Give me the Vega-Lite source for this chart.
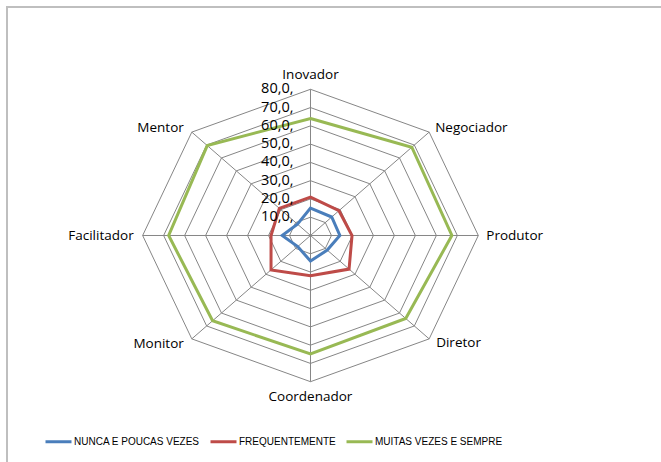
{
  "$schema": "https://vega.github.io/schema/vega-lite/v6.json",
  "width": 700,
  "height": 500,
  "autosize": {"type": "none"},
  "padding": {"left": 7, "top": 7, "right": 0, "bottom": 0},
  "background": "white",
  "config": {
    "view": {"stroke": "#BFBFBF", "strokeWidth": 2},
    "font": "Open Sans",
    "text": {"font": "Open Sans", "fontSize": 13.5, "fill": "#000000"}
  },
  "datasets": {
    "series": [
      {"axis": "Inovador", "idx": 0, "serie": "NUNCA E POUCAS VEZES", "value": 15},
      {"axis": "Negociador", "idx": 1, "serie": "NUNCA E POUCAS VEZES", "value": 14.3},
      {"axis": "Produtor", "idx": 2, "serie": "NUNCA E POUCAS VEZES", "value": 14},
      {"axis": "Diretor", "idx": 3, "serie": "NUNCA E POUCAS VEZES", "value": 11.3},
      {"axis": "Coordenador", "idx": 4, "serie": "NUNCA E POUCAS VEZES", "value": 14},
      {"axis": "Monitor", "idx": 5, "serie": "NUNCA E POUCAS VEZES", "value": 8.6},
      {"axis": "Facilitador", "idx": 6, "serie": "NUNCA E POUCAS VEZES", "value": 13.5},
      {"axis": "Mentor", "idx": 7, "serie": "NUNCA E POUCAS VEZES", "value": 8.8},
      {"axis": "Inovador", "idx": 0, "serie": "FREQUENTEMENTE", "value": 21},
      {"axis": "Negociador", "idx": 1, "serie": "FREQUENTEMENTE", "value": 19.2},
      {"axis": "Produtor", "idx": 2, "serie": "FREQUENTEMENTE", "value": 19.8},
      {"axis": "Diretor", "idx": 3, "serie": "FREQUENTEMENTE", "value": 26},
      {"axis": "Coordenador", "idx": 4, "serie": "FREQUENTEMENTE", "value": 22},
      {"axis": "Monitor", "idx": 5, "serie": "FREQUENTEMENTE", "value": 26.6},
      {"axis": "Facilitador", "idx": 6, "serie": "FREQUENTEMENTE", "value": 18.8},
      {"axis": "Mentor", "idx": 7, "serie": "FREQUENTEMENTE", "value": 21},
      {"axis": "Inovador", "idx": 0, "serie": "MUITAS VEZES E SEMPRE", "value": 64},
      {"axis": "Negociador", "idx": 1, "serie": "MUITAS VEZES E SEMPRE", "value": 68.3},
      {"axis": "Produtor", "idx": 2, "serie": "MUITAS VEZES E SEMPRE", "value": 67.4},
      {"axis": "Diretor", "idx": 3, "serie": "MUITAS VEZES E SEMPRE", "value": 64.2},
      {"axis": "Coordenador", "idx": 4, "serie": "MUITAS VEZES E SEMPRE", "value": 64.8},
      {"axis": "Monitor", "idx": 5, "serie": "MUITAS VEZES E SEMPRE", "value": 66},
      {"axis": "Facilitador", "idx": 6, "serie": "MUITAS VEZES E SEMPRE", "value": 67.6},
      {"axis": "Mentor", "idx": 7, "serie": "MUITAS VEZES E SEMPRE", "value": 69.6}
    ],
    "rings": [
      {"level": 10, "k": [0, 1, 2, 3, 4, 5, 6, 7]},
      {"level": 20, "k": [0, 1, 2, 3, 4, 5, 6, 7]},
      {"level": 30, "k": [0, 1, 2, 3, 4, 5, 6, 7]},
      {"level": 40, "k": [0, 1, 2, 3, 4, 5, 6, 7]},
      {"level": 50, "k": [0, 1, 2, 3, 4, 5, 6, 7]},
      {"level": 60, "k": [0, 1, 2, 3, 4, 5, 6, 7]},
      {"level": 70, "k": [0, 1, 2, 3, 4, 5, 6, 7]},
      {"level": 80, "k": [0, 1, 2, 3, 4, 5, 6, 7]}
    ],
    "axes": [
      {"axis": "Inovador", "idx": 0},
      {"axis": "Negociador", "idx": 1},
      {"axis": "Produtor", "idx": 2},
      {"axis": "Diretor", "idx": 3},
      {"axis": "Coordenador", "idx": 4},
      {"axis": "Monitor", "idx": 5},
      {"axis": "Facilitador", "idx": 6},
      {"axis": "Mentor", "idx": 7}
    ],
    "ticks": [
      {"level": 10, "label": "10,0,"},
      {"level": 20, "label": "20,0,"},
      {"level": 30, "label": "30,0,"},
      {"level": 40, "label": "40,0,"},
      {"level": 50, "label": "50,0,"},
      {"level": 60, "label": "60,0,"},
      {"level": 70, "label": "70,0,"},
      {"level": 80, "label": "80,0,"}
    ]
  },
  "layer": [
    {
      "data": {"name": "rings"},
      "transform": [
        {"flatten": ["k"]},
        {"calculate": "datum.level*sin(datum.k*PI/4)", "as": "x"},
        {"calculate": "datum.level*cos(datum.k*PI/4)", "as": "y"}
      ],
      "mark": {"type": "line", "interpolate": "linear-closed", "stroke": "#868686", "strokeWidth": 1},
      "encoding": {
        "x": {"field": "x", "type": "quantitative", "scale": {"domain": [-144.66, 189.0], "nice": false, "zero": false}, "axis": null},
        "y": {"field": "y", "type": "quantitative", "scale": {"domain": [-148.56, 125.03], "nice": false, "zero": false}, "axis": null},
        "detail": {"field": "level", "type": "nominal"},
        "order": {"field": "k", "type": "quantitative"}
      }
    },
    {
      "data": {"name": "axes"},
      "transform": [
        {"calculate": "80*sin(datum.idx*PI/4)", "as": "x"},
        {"calculate": "80*cos(datum.idx*PI/4)", "as": "y"}
      ],
      "mark": {"type": "rule", "stroke": "#868686", "strokeWidth": 1},
      "encoding": {
        "x": {"field": "x", "type": "quantitative", "scale": {"domain": [-144.66, 189.0], "nice": false, "zero": false}, "axis": null},
        "y": {"field": "y", "type": "quantitative", "scale": {"domain": [-148.56, 125.03], "nice": false, "zero": false}, "axis": null},
        "x2": {"datum": 0},
        "y2": {"datum": 0}
      }
    },
    {
      "data": {"name": "series"},
      "transform": [
        {"calculate": "datum.value*sin(datum.idx*PI/4)", "as": "x"},
        {"calculate": "datum.value*cos(datum.idx*PI/4)", "as": "y"}
      ],
      "mark": {"type": "line", "interpolate": "linear-closed", "strokeWidth": 3},
      "encoding": {
        "x": {"field": "x", "type": "quantitative", "scale": {"domain": [-144.66, 189.0], "nice": false, "zero": false}, "axis": null},
        "y": {"field": "y", "type": "quantitative", "scale": {"domain": [-148.56, 125.03], "nice": false, "zero": false}, "axis": null},
        "order": {"field": "idx", "type": "quantitative"},
        "color": {
          "field": "serie",
          "type": "nominal",
          "scale": {
            "domain": ["NUNCA E POUCAS VEZES", "FREQUENTEMENTE", "MUITAS VEZES E SEMPRE"],
            "range": ["#4A7EBB", "#BE4B48", "#98B954"]
          },
          "legend": {
            "title": null,
            "orient": "none",
            "direction": "horizontal",
            "legendX": 37,
            "legendY": 420,
            "symbolType": "stroke",
            "symbolSize": 676,
            "symbolStrokeWidth": 3,
            "labelFont": "Liberation Sans",
            "labelFontSize": 10,
            "labelColor": "#000000",
            "labelOffset": 1,
            "columnPadding": 4,
            "padding": 0
          }
        }
      }
    },
    {
      "data": {"name": "axes"},
      "transform": [
        {"filter": "datum.idx == 0"},
        {"calculate": "80*sin(datum.idx*PI/4)", "as": "x"},
        {"calculate": "80*cos(datum.idx*PI/4)", "as": "y"}
      ],
      "mark": {"type": "text", "align": "center", "baseline": "middle", "dy": -14},
      "encoding": {
        "x": {"field": "x", "type": "quantitative", "scale": {"domain": [-144.66, 189.0], "nice": false, "zero": false}, "axis": null},
        "y": {"field": "y", "type": "quantitative", "scale": {"domain": [-148.56, 125.03], "nice": false, "zero": false}, "axis": null},
        "text": {"field": "axis"}
      }
    },
    {
      "data": {"name": "axes"},
      "transform": [
        {"filter": "datum.idx == 4"},
        {"calculate": "80*sin(datum.idx*PI/4)", "as": "x"},
        {"calculate": "80*cos(datum.idx*PI/4)", "as": "y"}
      ],
      "mark": {"type": "text", "align": "center", "baseline": "middle", "dy": 15},
      "encoding": {
        "x": {"field": "x", "type": "quantitative", "scale": {"domain": [-144.66, 189.0], "nice": false, "zero": false}, "axis": null},
        "y": {"field": "y", "type": "quantitative", "scale": {"domain": [-148.56, 125.03], "nice": false, "zero": false}, "axis": null},
        "text": {"field": "axis"}
      }
    },
    {
      "data": {"name": "axes"},
      "transform": [
        {"filter": "datum.idx == 1"},
        {"calculate": "80*sin(datum.idx*PI/4)", "as": "x"},
        {"calculate": "80*cos(datum.idx*PI/4)", "as": "y"}
      ],
      "mark": {"type": "text", "align": "left", "baseline": "middle", "dx": 6, "dy": -4},
      "encoding": {
        "x": {"field": "x", "type": "quantitative", "scale": {"domain": [-144.66, 189.0], "nice": false, "zero": false}, "axis": null},
        "y": {"field": "y", "type": "quantitative", "scale": {"domain": [-148.56, 125.03], "nice": false, "zero": false}, "axis": null},
        "text": {"field": "axis"}
      }
    },
    {
      "data": {"name": "axes"},
      "transform": [
        {"filter": "datum.idx == 2"},
        {"calculate": "80*sin(datum.idx*PI/4)", "as": "x"},
        {"calculate": "80*cos(datum.idx*PI/4)", "as": "y"}
      ],
      "mark": {"type": "text", "align": "left", "baseline": "middle", "dx": 8, "dy": 1},
      "encoding": {
        "x": {"field": "x", "type": "quantitative", "scale": {"domain": [-144.66, 189.0], "nice": false, "zero": false}, "axis": null},
        "y": {"field": "y", "type": "quantitative", "scale": {"domain": [-148.56, 125.03], "nice": false, "zero": false}, "axis": null},
        "text": {"field": "axis"}
      }
    },
    {
      "data": {"name": "axes"},
      "transform": [
        {"filter": "datum.idx == 3"},
        {"calculate": "80*sin(datum.idx*PI/4)", "as": "x"},
        {"calculate": "80*cos(datum.idx*PI/4)", "as": "y"}
      ],
      "mark": {"type": "text", "align": "left", "baseline": "middle", "dx": 7, "dy": 4},
      "encoding": {
        "x": {"field": "x", "type": "quantitative", "scale": {"domain": [-144.66, 189.0], "nice": false, "zero": false}, "axis": null},
        "y": {"field": "y", "type": "quantitative", "scale": {"domain": [-148.56, 125.03], "nice": false, "zero": false}, "axis": null},
        "text": {"field": "axis"}
      }
    },
    {
      "data": {"name": "axes"},
      "transform": [
        {"filter": "datum.idx == 5"},
        {"calculate": "80*sin(datum.idx*PI/4)", "as": "x"},
        {"calculate": "80*cos(datum.idx*PI/4)", "as": "y"}
      ],
      "mark": {"type": "text", "align": "right", "baseline": "middle", "dx": -8, "dy": 5},
      "encoding": {
        "x": {"field": "x", "type": "quantitative", "scale": {"domain": [-144.66, 189.0], "nice": false, "zero": false}, "axis": null},
        "y": {"field": "y", "type": "quantitative", "scale": {"domain": [-148.56, 125.03], "nice": false, "zero": false}, "axis": null},
        "text": {"field": "axis"}
      }
    },
    {
      "data": {"name": "axes"},
      "transform": [
        {"filter": "datum.idx == 6"},
        {"calculate": "80*sin(datum.idx*PI/4)", "as": "x"},
        {"calculate": "80*cos(datum.idx*PI/4)", "as": "y"}
      ],
      "mark": {"type": "text", "align": "right", "baseline": "middle", "dx": -9, "dy": 1},
      "encoding": {
        "x": {"field": "x", "type": "quantitative", "scale": {"domain": [-144.66, 189.0], "nice": false, "zero": false}, "axis": null},
        "y": {"field": "y", "type": "quantitative", "scale": {"domain": [-148.56, 125.03], "nice": false, "zero": false}, "axis": null},
        "text": {"field": "axis"}
      }
    },
    {
      "data": {"name": "axes"},
      "transform": [
        {"filter": "datum.idx == 7"},
        {"calculate": "80*sin(datum.idx*PI/4)", "as": "x"},
        {"calculate": "80*cos(datum.idx*PI/4)", "as": "y"}
      ],
      "mark": {"type": "text", "align": "right", "baseline": "middle", "dx": -8, "dy": -4},
      "encoding": {
        "x": {"field": "x", "type": "quantitative", "scale": {"domain": [-144.66, 189.0], "nice": false, "zero": false}, "axis": null},
        "y": {"field": "y", "type": "quantitative", "scale": {"domain": [-148.56, 125.03], "nice": false, "zero": false}, "axis": null},
        "text": {"field": "axis"}
      }
    },
    {
      "data": {"name": "ticks"},
      "mark": {"type": "text", "align": "right", "baseline": "middle", "dx": -17, "fontSize": 14.5},
      "encoding": {
        "x": {"datum": 0, "type": "quantitative", "scale": {"domain": [-144.66, 189.0], "nice": false, "zero": false}, "axis": null},
        "y": {"field": "level", "type": "quantitative", "scale": {"domain": [-148.56, 125.03], "nice": false, "zero": false}, "axis": null},
        "text": {"field": "label"}
      }
    }
  ]
}
